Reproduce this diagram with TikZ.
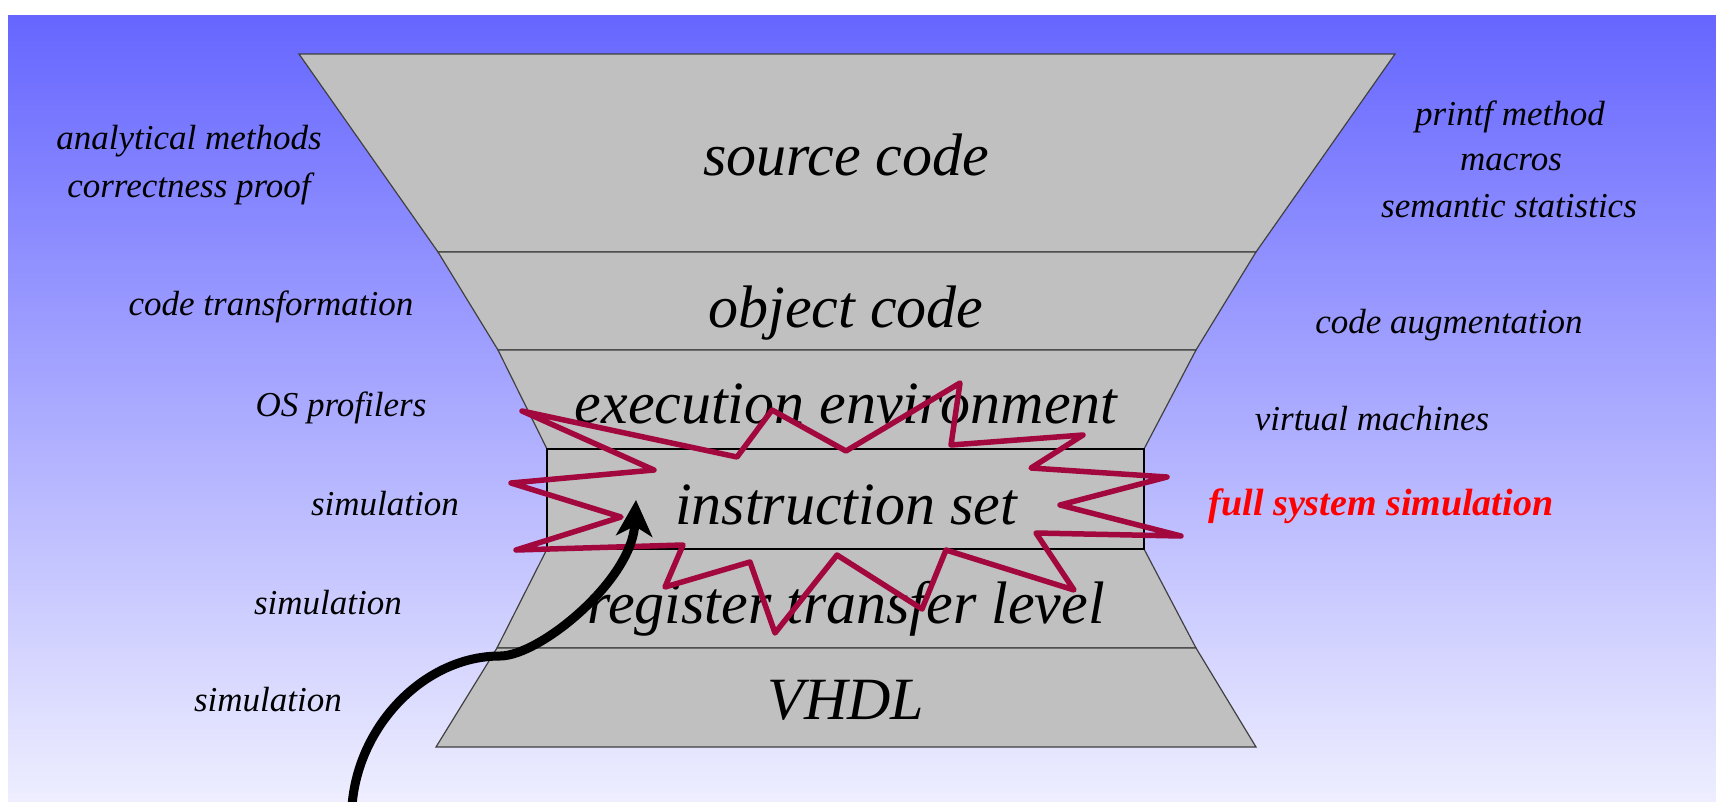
\documentclass[tikz,border=0pt]{standalone}
\usepackage{fontspec}
\setmainfont{Liberation Serif}
\usepackage{tikz}
\usetikzlibrary{arrows.meta, positioning}

\definecolor{bgtop}{RGB}{102,102,255}
\definecolor{bgbot}{RGB}{238,238,255}
\definecolor{layergray}{RGB}{192,192,192}
\definecolor{burstred}{RGB}{162,8,62}

\tikzset{
    layer/.style={fill=layergray, draw=black!75, line width=1.2pt},
    levelname/.style={anchor=base, inner sep=0pt, font=\fontsize{60}{66}\selectfont\itshape},
    method/.style={anchor=base, inner sep=0pt, font=\fontsize{35}{40}\selectfont\itshape},
    burst/.style={draw=burstred, line width=5.5pt, line join=round},
    pointer/.style={-{Stealth[length=36pt,width=36pt,inset=10pt]}, line width=9pt, black}
}

\begin{document}
\begin{tikzpicture}[x=1pt,y=-1pt]
    \useasboundingbox (0,0) rectangle (1716,801);
    \shade[top color=bgtop, bottom color=bgbot] (8,15) rectangle (1716,801);

    % Define corner coordinates of the funnel
    \coordinate (L0) at (299,54);   \coordinate (R0) at (1395,54);
    \coordinate (L1) at (438,252);  \coordinate (R1) at (1256,252);
    \coordinate (L2) at (498,350);  \coordinate (R2) at (1196,350);
    \coordinate (L3) at (547,449);  \coordinate (R3) at (1144,449);
    \coordinate (L4) at (547,549);  \coordinate (R4) at (1144,549);
    \coordinate (L5) at (497,648);  \coordinate (R5) at (1196,648);
    \coordinate (L6) at (436,747);  \coordinate (R6) at (1256,747);

    % Draw the layers
    \foreach \a/\b in {0/1,1/2,2/3,4/5,5/6} {
        \filldraw[layer] (L\a) -- (R\a) -- (R\b) -- (L\b) -- cycle;
    }
    \filldraw[layer, draw=black, line width=1.6pt] (L3) rectangle (R4);

    % Names of the levels
    \node[levelname] (src) at (846,175) {source code};
    \node[levelname] (obj) at (846,327) {object code};
    \node[levelname] (env) at (846,423) {execution environment};
    \node[levelname] (isa) at (846,524) {instruction set};
    \node[levelname] (rtl) at (846,623) {register transfer level};
    \node[levelname] (vhdl) at (846,719) {VHDL};

    % Methods on the left
    \node[method] (anal) at (189,149) {analytical methods};
    \node[method] (proof) at (189,197) {correctness proof};
    \node[method] (trans) at (271,315) {code transformation};
    \node[method] (prof) at (341,416) {OS profilers};
    \node[method] (simA) at (385,515) {simulation};
    \node[method] (simB) at (328,614) {simulation};
    \node[method] (simC) at (268,711) {simulation};

    % Methods on the right
    \node[method] (printf) at (1510,125) {printf method};
    \node[method] (macros) at (1511,170) {macros};
    \node[method] (stats) at (1509,217) {semantic statistics};
    \node[method] (augm) at (1449,333) {code augmentation};
    \node[method] (vm) at (1372,430) {virtual machines};
    \node[method, text=red, font=\fontsize{38}{42}\selectfont\bfseries\itshape] (fss) at (1381,515) {full system simulation};

    % Starburst round the instruction set
    \draw[burst] (522,411) -- (737,457) -- (772,410) -- (846,451) -- (960,383)
        -- (951,445) -- (1083,435) -- (1031,468) -- (1167,477) -- (1060,505)
        -- (1181,536) -- (1036,533) -- (1074,590) -- (946,550) -- (922,609)
        -- (837,555) -- (775,633) -- (750,562) -- (665,587) -- (683,545)
        -- (516,550) -- (621,517) -- (511,483) -- (654,470) -- cycle;

    % Arrow coming up from below
    \coordinate (tail) at (352,806);
    \coordinate (bend) at (500,656);
    \coordinate (tip) at (636,500);
    \draw[pointer] (tail) .. controls (358,725) and (425,656) .. (bend)
        .. controls (540,656) and (632,580) .. (tip);
\end{tikzpicture}
\end{document}
